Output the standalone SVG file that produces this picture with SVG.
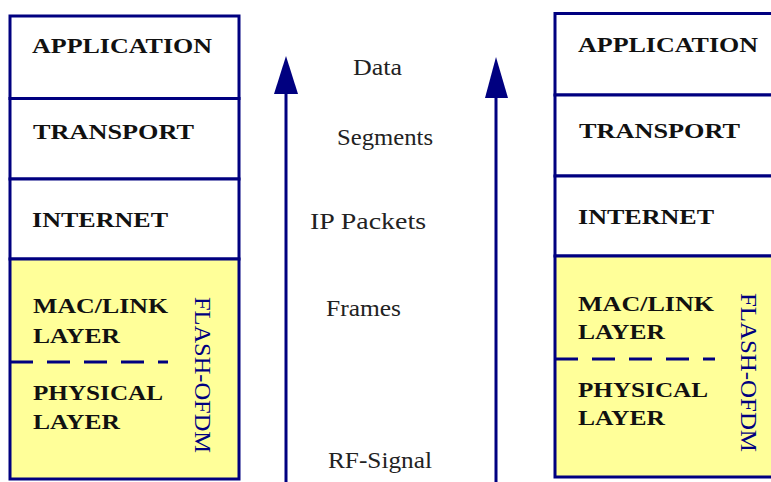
<svg xmlns="http://www.w3.org/2000/svg" width="771" height="482" viewBox="0 0 771 482">
<defs>
<style>
.box{fill:#ffffff;stroke:#000080;stroke-width:3}
.yel{fill:#ffff99;stroke:#000080;stroke-width:3}
.dash{stroke:#000080;stroke-width:3;stroke-dasharray:23 14;fill:none}
.lbl{font-weight:bold;font-size:22px;fill:#111111}
.mid{font-size:23px;fill:#222222}
.ofdm{font-size:24px;fill:#000080}
.line{stroke:#000080;stroke-width:3;fill:none}
.head{fill:#000080}
</style>
</defs>
<rect width="771" height="482" fill="#ffffff"/>
<g id="left-stack" font-family="Liberation Serif">
  <g id="left-application">
    <rect class="box" x="10" y="16" width="229" height="82.5"/>
    <text class="lbl" font-family="Liberation Serif" x="32" y="53" textLength="180" lengthAdjust="spacingAndGlyphs">APPLICATION</text>
  </g>
  <g id="left-transport">
    <rect class="box" x="10" y="98.5" width="229" height="80.5"/>
    <text class="lbl" font-family="Liberation Serif" x="33" y="139" textLength="161" lengthAdjust="spacingAndGlyphs">TRANSPORT</text>
  </g>
  <g id="left-internet">
    <rect class="box" x="10" y="179" width="229" height="80"/>
    <text class="lbl" font-family="Liberation Serif" x="32" y="227" textLength="136" lengthAdjust="spacingAndGlyphs">INTERNET</text>
  </g>
  <g id="left-flash-ofdm">
    <rect class="yel" x="10" y="259" width="229" height="220"/>
    <line class="dash" x1="10" y1="362" x2="168" y2="362"/>
    <text class="lbl" font-family="Liberation Serif" x="33" y="313" textLength="135" lengthAdjust="spacingAndGlyphs">MAC/LINK</text>
    <text class="lbl" font-family="Liberation Serif" x="33" y="343" textLength="87" lengthAdjust="spacingAndGlyphs">LAYER</text>
    <text class="lbl" font-family="Liberation Serif" x="33" y="400" textLength="130" lengthAdjust="spacingAndGlyphs">PHYSICAL</text>
    <text class="lbl" font-family="Liberation Serif" x="33" y="429" textLength="87" lengthAdjust="spacingAndGlyphs">LAYER</text>
    <text class="ofdm" font-family="Liberation Serif" transform="translate(195,297) rotate(90)" textLength="156" lengthAdjust="spacingAndGlyphs">FLASH-OFDM</text>
  </g>
</g>
<g id="right-stack" font-family="Liberation Serif">
  <g id="right-application">
    <rect class="box" x="555" y="13.5" width="240" height="81.5"/>
    <text class="lbl" font-family="Liberation Serif" x="578" y="52" textLength="180" lengthAdjust="spacingAndGlyphs">APPLICATION</text>
  </g>
  <g id="right-transport">
    <rect class="box" x="555" y="95" width="240" height="81"/>
    <text class="lbl" font-family="Liberation Serif" x="579" y="138" textLength="161" lengthAdjust="spacingAndGlyphs">TRANSPORT</text>
  </g>
  <g id="right-internet">
    <rect class="box" x="555" y="176" width="240" height="80"/>
    <text class="lbl" font-family="Liberation Serif" x="578" y="224" textLength="136" lengthAdjust="spacingAndGlyphs">INTERNET</text>
  </g>
  <g id="right-flash-ofdm">
    <rect class="yel" x="555" y="256" width="240" height="221"/>
    <line class="dash" x1="555" y1="359" x2="715" y2="359"/>
    <text class="lbl" font-family="Liberation Serif" x="578" y="311" textLength="136" lengthAdjust="spacingAndGlyphs">MAC/LINK</text>
    <text class="lbl" font-family="Liberation Serif" x="578" y="339" textLength="87" lengthAdjust="spacingAndGlyphs">LAYER</text>
    <text class="lbl" font-family="Liberation Serif" x="578" y="397" textLength="130" lengthAdjust="spacingAndGlyphs">PHYSICAL</text>
    <text class="lbl" font-family="Liberation Serif" x="578" y="425" textLength="87" lengthAdjust="spacingAndGlyphs">LAYER</text>
    <text class="ofdm" font-family="Liberation Serif" transform="translate(741,293) rotate(90)" textLength="159" lengthAdjust="spacingAndGlyphs">FLASH-OFDM</text>
  </g>
</g>
<g id="connectors">
  <line class="line" x1="286" y1="482" x2="286" y2="90"/>
  <polygon class="head" points="286,56 298,94 274,94"/>
  <line class="line" x1="496" y1="482" x2="496" y2="94"/>
  <polygon class="head" points="496,57 508,98 485,98"/>
</g>
<g id="labels" font-family="Liberation Serif">
  <text class="mid" font-family="Liberation Serif" x="353" y="75" textLength="49" lengthAdjust="spacingAndGlyphs">Data</text>
  <text class="mid" font-family="Liberation Serif" x="337" y="145" textLength="96" lengthAdjust="spacingAndGlyphs">Segments</text>
  <text class="mid" font-family="Liberation Serif" x="310" y="229" textLength="116" lengthAdjust="spacingAndGlyphs">IP Packets</text>
  <text class="mid" font-family="Liberation Serif" x="326" y="316" textLength="75" lengthAdjust="spacingAndGlyphs">Frames</text>
  <text class="mid" font-family="Liberation Serif" x="328" y="468" textLength="104" lengthAdjust="spacingAndGlyphs">RF-Signal</text>
</g>
</svg>
